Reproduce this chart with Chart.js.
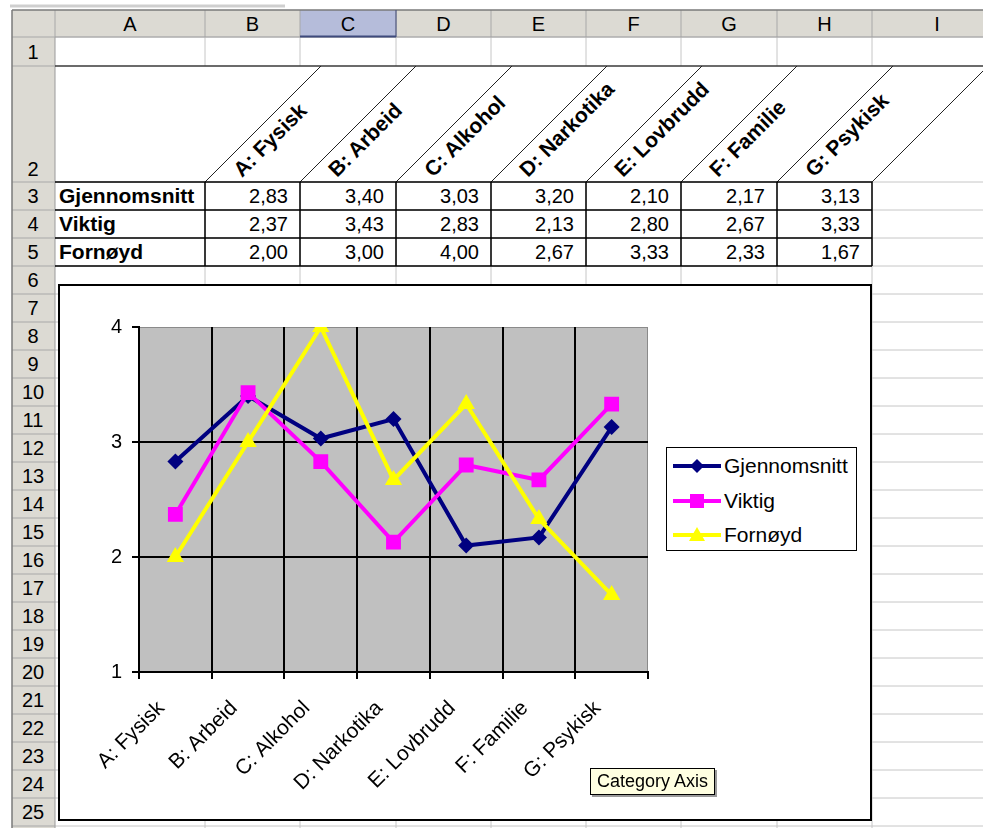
<!DOCTYPE html>
<html>
<head>
<meta charset="utf-8">
<script src="https://cdn.jsdelivr.net/npm/chart.js@4.4.1/dist/chart.umd.min.js"></script>
<style>
  body { margin: 0; background: #fff; width: 983px; height: 828px; overflow: hidden; position: relative;
         font-family: "Liberation Sans", Arial, sans-serif; }
  #sheet { position: absolute; left: 0; top: 0; }
  #chartBox { position: absolute; left: 58px; top: 284px; width: 814px; height: 537px;
              border: 2px solid #000; box-sizing: border-box; background: #fff; }
  #chartBox canvas { position: absolute; left: 0; top: 0; }
  #legend { position: absolute; left: 606px; top: 161px; width: 191px; height: 104px;
            border: 1.5px solid #000; box-sizing: border-box; background: #fff; }
  .lg-row { position: absolute; left: 6px; height: 30px; display: flex; align-items: center; }
  .lg-row span { font-size: 21px; color: #000; margin-left: 3px; }
  #tip { position: absolute; left: 590px; top: 768px; width: 125px; height: 27px; box-sizing: border-box;
         background: #ffffe1; border: 1px solid #000; box-shadow: 2px 2px 0 #9a9a9a;
         font-size: 18px; line-height: 25px; padding-left: 6px; color: #000; }
</style>
</head>
<body>
<svg id="sheet" width="983" height="828" xmlns="http://www.w3.org/2000/svg"></svg>
<div id="chartBox">
  <canvas id="chart" width="810" height="533"></canvas>
  <div id="legend"></div>
</div>
<div id="tip">Category Axis</div>

<script>
// ===============================
// DATA
// ===============================
const categories = ["A: Fysisk", "B: Arbeid", "C: Alkohol", "D: Narkotika", "E: Lovbrudd", "F: Familie", "G: Psykisk"];
const seriesNames = ["Gjennomsnitt", "Viktig", "Fornøyd"];
const gjennomsnitt = [2.83, 3.40, 3.03, 3.20, 2.10, 2.17, 3.13];
const viktig = [2.37, 3.43, 2.83, 2.13, 2.80, 2.67, 3.33];
const fornoyd = [2.00, 3.00, 4.00, 2.67, 3.33, 2.33, 1.67];
const yTicks = [1, 2, 3, 4];
const colLetters = ["A", "B", "C", "D", "E", "F", "G", "H", "I"];

const seriesValues = [gjennomsnitt, viktig, fornoyd];
const seriesColors = ["#000080", "#ff00ff", "#ffff00"];
const seriesPoints = ["rectRot", "rect", "triangle"];


// ===============================
// SPREADSHEET GRID (svg)
// ===============================
const NS = "http://www.w3.org/2000/svg";
const sheet = document.getElementById("sheet");

function add(tag, attrs, text) {
  const e = document.createElementNS(NS, tag);
  for (const k in attrs) e.setAttribute(k, attrs[k]);
  if (text !== undefined) e.textContent = text;
  sheet.appendChild(e);
  return e;
}
function line(x1, y1, x2, y2, stroke, w) {
  add("line", { x1, y1, x2, y2, stroke, "stroke-width": w || 1 });
}

const colEdges = [55, 205, 300, 396, 491, 586, 681, 777, 872, 1002];
const rowEdges = [37, 66, 182, 210, 238, 266];
for (let k = 1; k <= 20; k++) rowEdges.push(266 + 28 * k);

const hdrFill = "#dcdad3";
const gridCol = "#c6c6c6";

// stray toolbar edge at the very top
line(10, 6, 285, 6, "#cfcfcf", 3);

// header backgrounds
add("rect", { x: 12, y: 10, width: 971, height: 27, fill: hdrFill });
add("rect", { x: 12, y: 37, width: 43, height: 791, fill: hdrFill });
add("rect", { x: colEdges[2], y: 10, width: colEdges[3] - colEdges[2], height: 27, fill: "#b5bcda" });

// light cell gridlines
for (let r = 0; r < rowEdges.length; r++) {
  if (r === 1) continue;
  line(55, rowEdges[r], 983, rowEdges[r], gridCol, 1);
}
for (let c = 0; c < colEdges.length; c++) {
  const x = colEdges[c];
  if (c === 0) { line(x, 37, x, 828, "#9a9a9a", 1); continue; }
  line(x, 37, x, 66, gridCol, 1);
  line(x, 182, x, 828, gridCol, 1);
}

// header separators
for (let c = 0; c < colEdges.length; c++) line(colEdges[c], 10, colEdges[c], 37, "#a8a8a8", 1);
for (let r = 0; r < rowEdges.length; r++) line(12, rowEdges[r], 55, rowEdges[r], "#a8a8a8", 1);
line(12, 10, 983, 10, "#7a7a7a", 1.5);
line(12, 10, 12, 828, "#7a7a7a", 1.5);
line(55, 37, 983, 37, "#a0a0a0", 1);
line(colEdges[2], 36.5, colEdges[3], 36.5, "#3e4a7c", 2);
line(colEdges[3], 10, colEdges[3], 37, "#3e4a7c", 1);

// column letters
colLetters.forEach((L, i) => {
  add("text", { x: (colEdges[i] + colEdges[i + 1]) / 2, y: 31, "font-size": 20, "text-anchor": "middle",
                fill: "#000", "font-family": "Liberation Sans, Arial" }, L);
});
// row numbers
for (let r = 0; r < 25; r++) {
  const top = rowEdges[r], bot = rowEdges[r + 1];
  const y = r === 1 ? bot - 6 : (top + bot) / 2 + 7;
  add("text", { x: 33, y, "font-size": 20, "text-anchor": "middle", fill: "#000",
                "font-family": "Liberation Sans, Arial" }, String(r + 1));
}

// row 2: slanted header cells
line(55, 66, 983, 66, "#3a3a3a", 1.5);
for (let c = 1; c < colEdges.length; c++) {
  const x = colEdges[c];
  line(x, 182, x + 116, 66, "#222", 1);
}
categories.forEach((cat, i) => {
  const x0 = colEdges[i + 1] + 37, y0 = 178;
  add("text", { x: x0, y: y0, "font-size": 21, "font-weight": "bold", fill: "#000",
                "font-family": "Liberation Sans, Arial", transform: `rotate(-45 ${x0} ${y0})` }, cat);
});

// table rows 3-5
const tTop = rowEdges[2], tBot = rowEdges[5];
line(55, tTop, colEdges[8], tTop, "#000", 1.5);
for (let r = 3; r <= 5; r++) line(55, rowEdges[r], colEdges[8], rowEdges[r], "#000", 1.5);
for (let c = 1; c <= 8; c++) line(colEdges[c], tTop, colEdges[c], tBot, "#000", 1.5);

const fmt = v => v.toFixed(2).replace(".", ",");
seriesNames.forEach((name, s) => {
  const y = (rowEdges[s + 2] + rowEdges[s + 3]) / 2 + 7;
  add("text", { x: 59, y, "font-size": 21, "font-weight": "bold", fill: "#000",
                "font-family": "Liberation Sans, Arial" }, name);
  seriesValues[s].forEach((v, i) => {
    add("text", { x: colEdges[i + 2] - 12, y, "font-size": 20, "text-anchor": "end", fill: "#000",
                  "font-family": "Liberation Sans, Arial" }, fmt(v));
  });
});


// ===============================
// CHART
// ===============================
const plotBg = {
  id: "plotBg",
  beforeDraw(chart) {
    const { ctx, chartArea: a } = chart;
    ctx.save();
    ctx.fillStyle = "#c0c0c0";
    ctx.fillRect(a.left, a.top, a.right - a.left, a.bottom - a.top);
    ctx.strokeStyle = "#8a8a8a";
    ctx.lineWidth = 1;
    ctx.strokeRect(a.left + 0.5, a.top + 0.5, a.right - a.left - 1, a.bottom - a.top);
    ctx.restore();
  }
};

const radii = [8, 10.5, 10];
const chart = new Chart(document.getElementById("chart"), {
  type: "line",
  data: {
    labels: categories,
    datasets: seriesNames.map((name, s) => ({
      label: name,
      data: seriesValues[s],
      borderColor: seriesColors[s],
      backgroundColor: seriesColors[s],
      pointStyle: seriesPoints[s],
      pointRadius: radii[s],
      pointBorderWidth: 0,
      borderWidth: 4,
      tension: 0,
      order: 2 - s
    }))
  },
  options: {
    responsive: false,
    animation: false,
    layout: { padding: { top: 41, right: 222, left: 0, bottom: 0 } },
    plugins: { legend: { display: false }, tooltip: { enabled: false } },
    scales: {
      x: {
        offset: true,
        afterFit: s => { s.height = 147; },
        grid: {
          offset: true,
          color: c => (c.type === "tick" ? "#000" : "rgba(0,0,0,0)"),
          lineWidth: 2,
          tickLength: 7,
          tickColor: "#000",
          tickWidth: 2
        },
        border: { color: "#000", width: 2 },
        ticks: {
          autoSkip: false, minRotation: 45, maxRotation: 45, padding: 17, labelOffset: -14,
          color: "#000", font: { family: "Liberation Sans, Arial", size: 21 }
        }
      },
      y: {
        min: 1, max: 4,
        afterFit: s => { s.width = 79; },
        afterBuildTicks: s => { s.ticks = yTicks.map(v => ({ value: v })); },
        grid: {
          color: c => (c.tick && c.tick.value === yTicks[yTicks.length - 1] ? "rgba(0,0,0,0)" : "#000"),
          lineWidth: 2,
          tickLength: 7,
          tickColor: "#000",
          tickWidth: 2
        },
        border: { color: "#000", width: 2 },
        ticks: {
          padding: 10, color: "#000",
          font: { family: "Liberation Sans, Arial", size: 20 }
        }
      }
    }
  },
  plugins: [plotBg]
});


// ===============================
// LEGEND (html, from the datasets)
// ===============================
function marker(style, color) {
  const c = 24;
  if (style === "rectRot") return `<polygon points="${c},5 ${c + 7},12 ${c},19 ${c - 7},12" fill="${color}"/>`;
  if (style === "rect") return `<rect x="${c - 7}" y="5" width="14" height="14" fill="${color}"/>`;
  return `<polygon points="${c},4 ${c + 8},18 ${c - 8},18" fill="${color}"/>`;
}
const legend = document.getElementById("legend");
chart.data.datasets.forEach((ds, i) => {
  const row = document.createElement("div");
  row.className = "lg-row";
  row.style.top = (3 + i * 34.5) + "px";
  row.innerHTML =
    `<svg width="48" height="24"><line x1="0" y1="12" x2="48" y2="12" stroke="${ds.borderColor}" stroke-width="4"/>` +
    marker(ds.pointStyle, ds.borderColor) + `</svg><span>${ds.label}</span>`;
  legend.appendChild(row);
});
</script>
</body>
</html>
